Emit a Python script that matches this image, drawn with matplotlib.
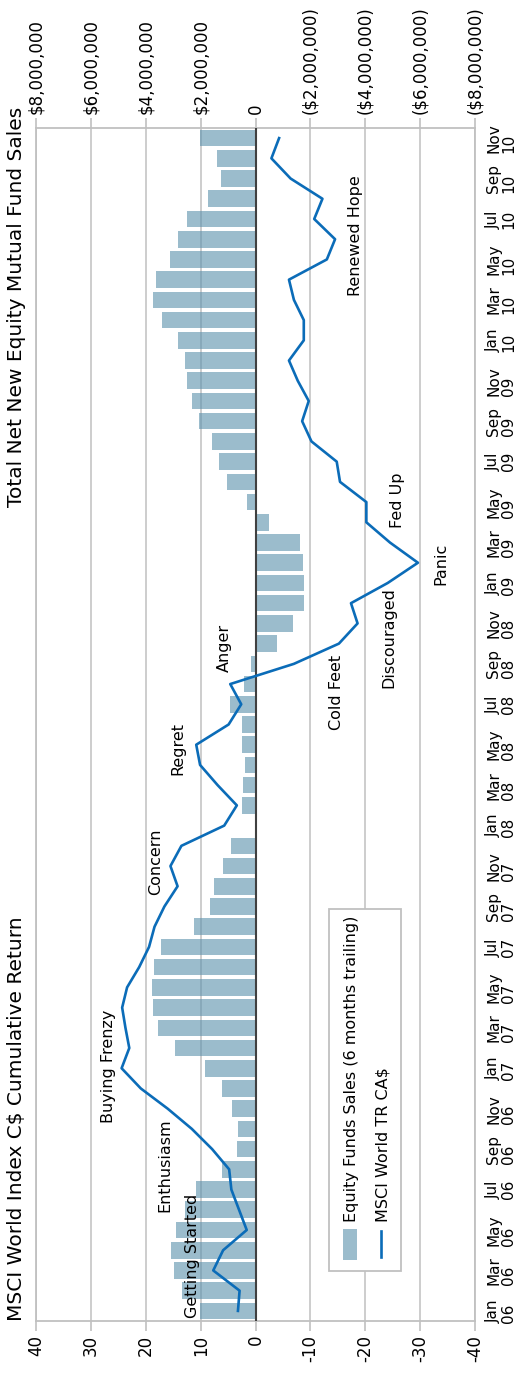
import numpy as np
import matplotlib
matplotlib.use('Agg')
import matplotlib.pyplot as plt
from matplotlib.patches import Rectangle
from matplotlib.lines import Line2D

# monthly data, Jan 06 .. Nov 10
month_names = ['Jan', 'Feb', 'Mar', 'Apr', 'May', 'Jun',
               'Jul', 'Aug', 'Sep', 'Oct', 'Nov', 'Dec']
years = ['06', '07', '08', '09', '10']
n_months = 59

# equity fund sales, 6 months trailing ($ millions)
sales_mm = [2.01, 2.68, 2.96, 3.07, 2.89, 2.56, 2.16, 1.23, 0.68, 0.65,
            0.86, 1.23, 1.85, 2.95, 3.57, 3.75, 3.79, 3.71, 3.46, 2.25,
            1.67, 1.52, 1.19, 0.90, 0.0, 0.50, 0.47, 0.37, 0.48, 0.51,
            0.94, 0.43, 0.18, -0.79, -1.36, -1.78, -1.77, -1.73, -1.62, -0.49,
            0.32, 1.05, 1.34, 1.60, 2.07, 2.33, 2.51, 2.58, 2.84, 3.39,
            3.75, 3.61, 3.13, 2.84, 2.51, 1.74, 1.25, 1.40, 2.01]

# MSCI World TR CA$ cumulative return (%)
msci_ret = [3.2, 2.9, 7.7, 5.9, 1.6, 3.0, 4.4, 4.8, 7.9, 11.6,
            16.0, 20.9, 24.4, 23.0, 23.7, 24.3, 23.4, 21.2, 19.4, 18.4,
            16.6, 14.2, 15.5, 13.5, 5.7, 3.4, 6.9, 10.1, 10.8, 4.9,
            2.6, 4.6, -7.0, -15.2, -18.6, -17.4, -24.1, -29.6, -24.5, -20.2,
            -20.2, -15.4, -14.8, -10.2, -8.5, -9.7, -7.7, -6.1, -8.8, -8.8,
            -7.0, -6.1, -13.0, -14.5, -10.7, -12.2, -6.4, -2.9, -4.3]

phase_labels = ['Getting Started', 'Enthusiasm', 'Buying Frenzy', 'Concern',
                'Regret', 'Anger', 'Cold Feet', 'Discouraged', 'Panic',
                'Fed Up', 'Renewed Hope']
phase_ret = [11.4, 16.6, 26.8, 18.2, 14.2, 5.7, -14.7, -24.3, -33.7, -25.9, -18.2]
phase_month = [2.7, 7.2, 12.1, 22.2, 27.8, 32.8, 30.6, 33.3, 36.95, 40.1, 53.2]

sales_ticks = [8e6, 6e6, 4e6, 2e6, 0, -2e6, -4e6, -6e6, -8e6]
sales_ticklabels = ['$8,000,000', '$6,000,000', '$4,000,000', '$2,000,000', '0',
                    '($2,000,000)', '($4,000,000)', '($6,000,000)', '($8,000,000)']
ret_ticks = [40, 30, 20, 10, 0, -10, -20, -30, -40]

months = np.arange(n_months)
sales = np.array(sales_mm) * 1e6
date_labels = [f'{month_names[i % 12]}\n{years[i // 12]}' for i in months[::2]]

bar_color = '#5e93ae'
line_color = '#0b6cb8'
grid_color = '#c0c0c0'
plt.rcParams['font.family'] = ['DejaVu Sans']

W, H = 529, 1374
fig = plt.figure(figsize=(W / 100, H / 100), dpi=100)
x0, x1, ytop, ybot = 36, 475, 128, 1321
ax = fig.add_axes([x0 / W, (H - ybot) / H, (x1 - x0) / W, (ybot - ytop) / H])
ax2 = ax.twiny()

# the chart is turned on its side: time runs upward, values run right-to-left
ax.barh(months, sales, height=0.82, color=bar_color, alpha=0.62, zorder=2)
ax.set_xlim(8e6, -8e6)
ax.set_ylim(-0.5, n_months - 0.5)
ax.axvline(0, color='#404040', lw=1.5, zorder=3)
ax.xaxis.tick_top()
ax.xaxis.set_label_position('top')
ax.set_xticks(sales_ticks)
ax.set_xticklabels(sales_ticklabels, rotation=90)
ax.grid(axis='x', color=grid_color, lw=1.1, zorder=1)
ax.set_axisbelow(True)
ax.tick_params(axis='x', which='both', top=True, bottom=False, labeltop=True,
               labelbottom=False, direction='out', length=7, width=1.2,
               color=grid_color, labelsize=12, pad=3)
ax.yaxis.tick_right()
ax.set_yticks(months[::2])
ax.set_yticklabels(date_labels, rotation=90, va='center', ha='left',
                   linespacing=1.0)
ax.tick_params(axis='y', length=0, labelsize=11, pad=8)
for s in ax.spines.values():
    s.set_color(grid_color)
    s.set_linewidth(1.3)

ax2.set_xlim(40, -40)
ax2.set_ylim(-0.5, n_months - 0.5)
ax2.set_xticks(ret_ticks)
ax2.set_xticklabels([str(t) for t in ret_ticks], rotation=90)
ax2.tick_params(axis='x', which='both', top=False, bottom=True, labeltop=False,
                labelbottom=True, direction='out', length=7, width=1.2,
                color=grid_color, labelsize=12, pad=3)
for s in ax2.spines.values():
    s.set_visible(False)
ax2.plot(msci_ret, months, color=line_color, lw=1.9, zorder=4)

for lab, xr, ym in zip(phase_labels, phase_ret, phase_month):
    ax2.text(xr, ym, lab, rotation=90, ha='center', va='center', fontsize=11.5)

# legend box, drawn by hand so that it turns with the chart
bx0, bx1, by0, by1 = 0.667, 0.831, 0.042, 0.345
ax2.add_patch(Rectangle((bx0, by0), bx1 - bx0, by1 - by0, transform=ax2.transAxes,
                        facecolor='white', edgecolor=grid_color, lw=1.3, zorder=5))
ax2.add_patch(Rectangle((0.699, 0.051), 0.032, 0.026, transform=ax2.transAxes,
                        facecolor=bar_color, alpha=0.62, lw=0, zorder=6))
ax2.add_line(Line2D([0.785, 0.785], [0.054, 0.0755], transform=ax2.transAxes,
                    color=line_color, lw=1.9, zorder=6))
ax2.text(0.718, 0.083, 'Equity Funds Sales (6 months trailing)', transform=ax2.transAxes,
         rotation=90, ha='center', va='bottom', fontsize=11.5, zorder=7)
ax2.text(0.79, 0.083, 'MSCI World TR CA$', transform=ax2.transAxes,
         rotation=90, ha='center', va='bottom', fontsize=11.5, zorder=7)

fig.text(17 / W, (H - ybot) / H, 'MSCI World Index C$ Cumulative Return',
         rotation=90, ha='center', va='bottom', fontsize=14.5)
fig.text(17 / W, (H - 107) / H, 'Total Net New Equity Mutual Fund Sales',
         rotation=90, ha='center', va='top', fontsize=14.5)

fig.savefig('out.png', dpi=100)
